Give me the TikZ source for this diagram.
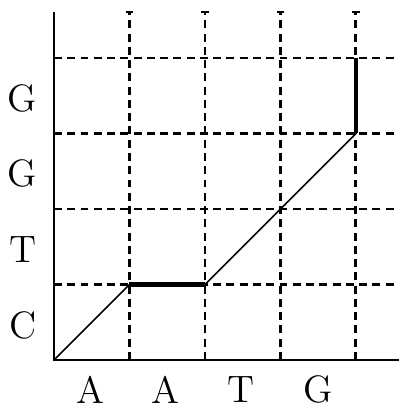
\documentclass[tikz,border=0pt]{standalone}
\begin{document}
\begin{tikzpicture}[x=1cm,y=1cm,
  vgrid/.style={line width=1.1pt,dash pattern=on 3pt off 2pt},
  hgrid/.style={line width=0.8pt,dash pattern=on 3pt off 2pt},
  topcap/.style={line width=0.8pt},
  axisline/.style={line width=0.8pt},
  thinpath/.style={line width=0.6pt},
  thickpath/.style={line width=1.6pt},
  lbl/.style={font=\fontsize{14.4}{17}\selectfont,inner sep=0pt}]
\useasboundingbox (-0.715,-0.623) rectangle (4.570,4.768);
% grid
\foreach \i in {1,2,3,4} {
  \draw[vgrid] (\i,0) -- (\i,4.61);
  \draw[topcap] (\i-0.05,4.61) -- (\i+0.05,4.61);
  \draw[hgrid] (0,\i) -- (4.57,\i);
}
% axes
\coordinate (o) at (0,0);
\coordinate (ytop) at (0,4.61);
\coordinate (xend) at (4.57,0);
\draw[axisline] (ytop) -- (o) -- (xend);
% path
\coordinate (p1) at (1,1);
\coordinate (p2) at (2,1);
\coordinate (p3) at (4,3);
\coordinate (p4) at (4,4);
\draw[thinpath] (o) -- (p1);
\draw[thickpath] (p1) -- (p2);
\draw[thinpath] (p2) -- (p3);
\draw[thickpath] (p3) -- (p4);
% labels
\node[lbl] (xa1) at (0.48,-0.39) {A};
\node[lbl] (xa2) at (1.48,-0.39) {A};
\node[lbl] (xt) at (2.48,-0.39) {T};
\node[lbl] (xg) at (3.5,-0.39) {G};
\node[lbl] (yc) at (-0.415,0.46) {C};
\node[lbl] (yt) at (-0.415,1.46) {T};
\node[lbl] (yg1) at (-0.415,2.47) {G};
\node[lbl] (yg2) at (-0.415,3.47) {G};
\end{tikzpicture}
\end{document}
